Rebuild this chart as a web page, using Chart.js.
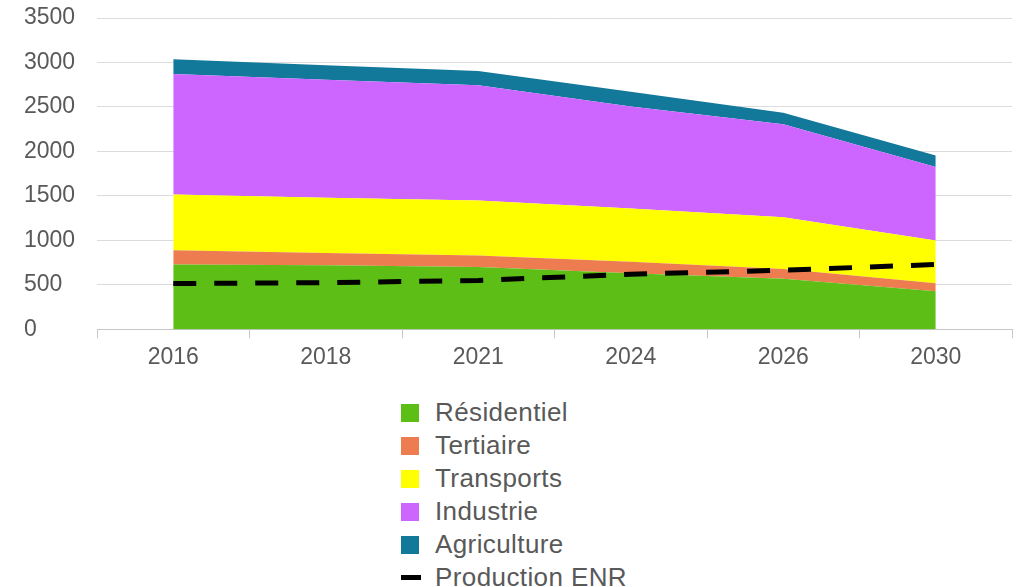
<!DOCTYPE html>
<html lang="fr">
<head>
<meta charset="utf-8">
<title>Consommation par secteur et production ENR</title>
<script src="https://cdn.jsdelivr.net/npm/chart.js@4/dist/chart.umd.min.js"></script>
<style>
  html, body { margin: 0; padding: 0; background: #fff; }
  body { width: 1017px; height: 587px; position: relative; overflow: hidden; font-family: 'Liberation Sans', Arial, sans-serif; }
  .chart-wrap { position: absolute; left: 0; top: 0; width: 1017px; height: 390px; }
  #legend { position: absolute; left: 401px; top: 396px; margin: 0; padding: 0; list-style: none; }
  #legend li { height: 33px; display: flex; align-items: center; color: #595959; font-size: 26px; letter-spacing: 0.4px; white-space: nowrap; }
  #legend .sw { width: 18px; height: 18px; margin-right: 16px; flex: none; }
  #legend .ln { width: 20px; height: 5px; margin: 0 14px 0 0; flex: none; background: #000; }
</style>
</head>
<body>
<div class="chart-wrap"><canvas id="energy-chart"></canvas></div>
<ul id="legend"></ul>

<script>
/* ══════════════════════════════════════════════
   DATA
══════════════════════════════════════════════ */
const years        = ['2016', '2018', '2021', '2024', '2026', '2030'];
const residentiel  = [730, 720, 700, 630, 570, 430];
const tertiaire    = [160, 140, 130, 130, 110, 90];
const transports   = [625, 620, 620, 600, 580, 480];
const industrie    = [1355, 1325, 1295, 1145, 1045, 825];
const agriculture  = [165, 165, 160, 165, 130, 130];
const productionEnr = [515, 525, 550, 620, 665, 730];
const yTicks       = [0, 500, 1000, 1500, 2000, 2500, 3000, 3500];

const sectors = [
  { label: 'Résidentiel', data: residentiel, color: '#5DBE16' },
  { label: 'Tertiaire',   data: tertiaire,   color: '#ED7D50' },
  { label: 'Transports',  data: transports,  color: '#FFFF00' },
  { label: 'Industrie',   data: industrie,   color: '#CC66FF' },
  { label: 'Agriculture', data: agriculture, color: '#13799A' }
];

const FONT = "'Liberation Sans', Arial, sans-serif";

document.addEventListener('DOMContentLoaded', () => {
  const chart = renderChart();
  renderLegend(chart);
});

function renderChart() {
  const canvas = document.getElementById('energy-chart');
  const areaSets = sectors.map((s, i) => ({
    label: s.label,
    data: s.data,
    backgroundColor: s.color,
    borderColor: s.color,
    borderWidth: 0,
    pointRadius: 0,
    fill: i === 0 ? 'origin' : '-1',
    stack: 'conso',
    tension: 0,
    order: 1
  }));

  return new Chart(canvas.getContext('2d'), {
    type: 'line',
    data: {
      labels: years,
      datasets: [
        ...areaSets,
        {
          label: 'Production ENR',
          data: productionEnr,
          borderColor: '#000',
          backgroundColor: '#000',
          borderWidth: 5,
          borderDash: [23, 18],
          pointRadius: 0,
          fill: false,
          stack: 'enr',
          tension: 0,
          order: 0
        }
      ]
    },
    options: {
      responsive: true, maintainAspectRatio: false,
      animation: false,
      layout: { padding: { left: 24, right: 5, top: 18, bottom: 14 } },
      plugins: {
        legend: { display: false },
        tooltip: { enabled: false }
      },
      scales: {
        x: {
          offset: true,
          grid: { offset: true, drawOnChartArea: false, drawTicks: true, tickLength: 9, color: '#c8c8c8' },
          border: { display: true, color: '#c8c8c8' },
          ticks: { font: { size: 23, family: FONT }, color: '#595959', padding: 5, maxRotation: 0 }
        },
        y: {
          stacked: true,
          min: 0, max: 3500,
          afterBuildTicks: axis => { axis.ticks = yTicks.map(v => ({ value: v })); },
          afterFit: axis => { axis.width = 73; },
          grid: { color: '#dcdcdc', drawTicks: false },
          border: { display: false },
          ticks: { font: { size: 23, family: FONT }, color: '#595959', crossAlign: 'far', padding: 0, callback: v => String(v) }
        }
      }
    }
  });
}

function renderLegend(chart) {
  const ul = document.getElementById('legend');
  ul.innerHTML = chart.data.datasets.map(ds => {
    const mark = ds.fill === false
      ? '<span class="ln"></span>'
      : `<span class="sw" style="background:${ds.backgroundColor}"></span>`;
    return `<li>${mark}${ds.label}</li>`;
  }).join('');
}
</script>
</body>
</html>
